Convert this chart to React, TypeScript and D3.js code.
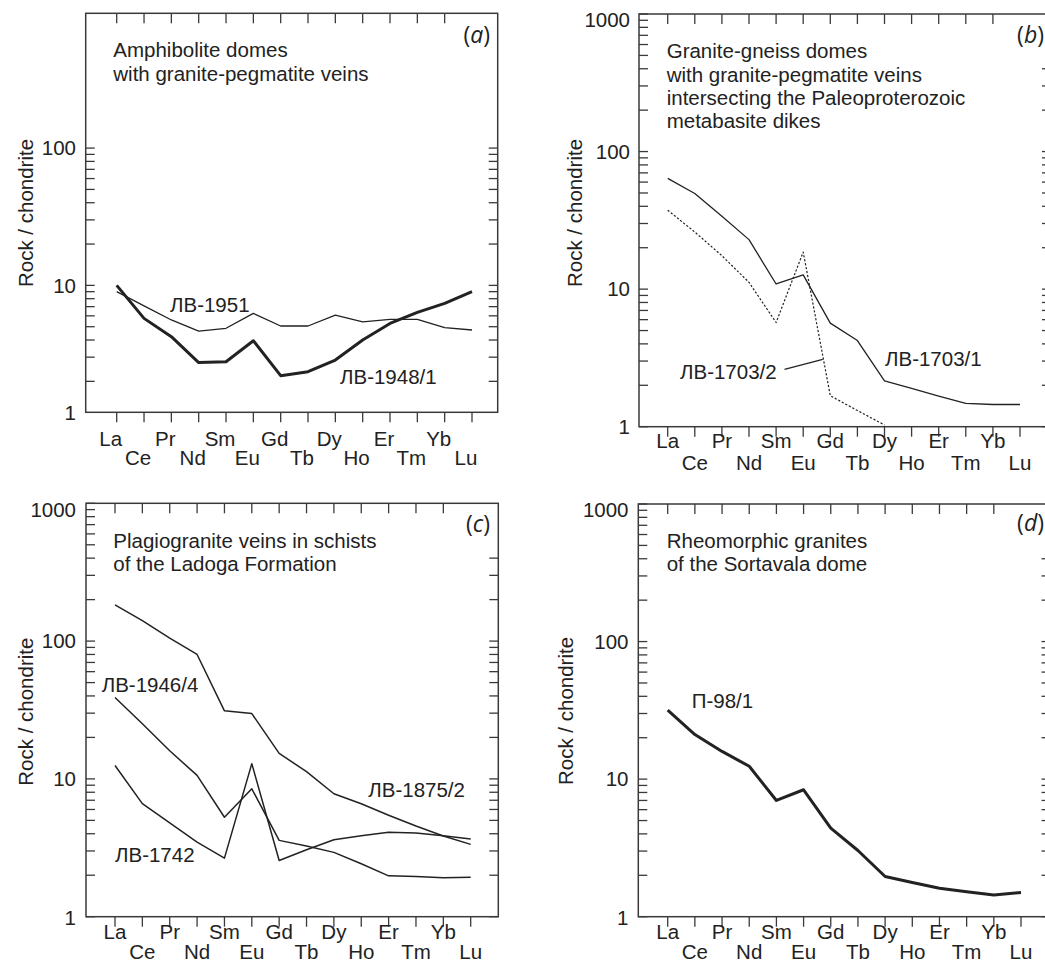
import React from "react";
import * as d3 from "d3";

const REE = ["La", "Ce", "Pr", "Nd", "Sm", "Eu", "Gd", "Tb", "Dy", "Ho", "Er", "Tm", "Yb", "Lu"];
const Y_TICK_LABELS = [1, 10, 100, 1000];

// Panel (a)
const LV1951 = [9.0, 7.1, 5.6, 4.65, 4.87, 6.25, 5.06, 5.06, 6.08, 5.43, 5.65, 5.65, 4.92, 4.73];
const LV1948_1 = [10, 5.75, 4.23, 2.74, 2.78, 3.95, 2.2, 2.35, 2.86, 4.0, 5.28, 6.36, 7.4, 9.0];
// Panel (b)
const LV1703_1 = [63.8, 49.6, 33.9, 22.9, 10.9, 12.7, 5.66, 4.23, 2.15, 1.9, 1.67, 1.48, 1.45, 1.45];
const LV1703_2 = [37.5, 26, 17.5, 11.2, 5.72, 18.6, 1.68, 1.31, 1.03];
// Panel (c)
const LV1875_2 = [183, 141, 105, 80, 31.2, 29.8, 15.3, 11.3, 7.8, 6.6, 5.45, 4.55, 3.85, 3.35];
const LV1946_4 = [39, 25.1, 16.0, 10.6, 5.27, 8.47, 3.58, 3.26, 2.93, 2.42, 1.98, 1.96, 1.92, 1.93];
const LV1742 = [12.5, 6.62, 4.79, 3.48, 2.66, 12.9, 2.56, 3.06, 3.62, 3.87, 4.1, 4.05, 3.87, 3.66];
// Panel (d)
const P98_1 = [31.7, 21.1, 15.9, 12.4, 7.0, 8.37, 4.4, 3.03, 1.96, 1.77, 1.61, 1.52, 1.44, 1.5];

const INK = "#222";
const FRAME = "#3a3a3a";
const FONT = "'Liberation Sans', Arial, sans-serif";
const FS = 20.5;

function tickValues(lo: number, hi: number) {
  const out: number[] = [];
  for (const d of [1, 10, 100]) {
    for (let k = 1; k <= 9; k++) {
      const v = d * k;
      if (v >= lo - 1e-9 && v <= hi + 1e-9) out.push(v);
    }
  }
  if (1000 >= lo && 1000 <= hi) out.push(1000);
  return out;
}

type Series = { values: number[]; width: number; dash?: string };
type Label = { text: string; x: number; y: number };

type PanelCfg = {
  letter: string;
  left: number; right: number; top: number; bottom: number;
  domain: [number, number];
  xRange: [number, number];
  labelShift: number; row1: number; row2: number;
  leftTicks: [number, number]; rightTicks: [number, number];
  yLabelX: number;
  yLabelOffsets: Record<number, number>;
  title: string[]; titleX: number; titleY: number[];
  yTitle: [number, number];
  letterX: number; letterY: number;
  series: Series[];
  labels: Label[];
  leader?: [number, number, number, number];
};

const PANELS: PanelCfg[] = [
  {
    letter: "a",
    left: 85.7, right: 497.7, top: 13.3, bottom: 412.3,
    domain: [1.19, 959], xRange: [116.7, 472],
    labelShift: -6, row1: 445.7, row2: 465,
    leftTicks: [2, 100], rightTicks: [2, 100],
    yLabelX: 76, yLabelOffsets: {},
    title: ["Amphibolite domes", "with granite-pegmatite veins"], titleX: 113.3, titleY: [57.3, 81],
    yTitle: [33, 213], letterX: 490, letterY: 43,
    series: [{ values: LV1951, width: 1.3 }, { values: LV1948_1, width: 3 }],
    labels: [{ text: "ЛВ-1951", x: 170, y: 312 }, { text: "ЛВ-1948/1", x: 340, y: 384 }],
  },
  {
    letter: "b",
    left: 639, right: 1051, top: 14, bottom: 426.7,
    domain: [1, 1000], xRange: [667.7, 1020],
    labelShift: 0, row1: 448.3, row2: 470,
    leftTicks: [1, 1000], rightTicks: [1, 400],
    yLabelX: 630, yLabelOffsets: { 1000: 6 },
    title: ["Granite-gneiss domes", "with granite-pegmatite veins", "intersecting the Paleoproterozoic", "metabasite dikes"],
    titleX: 666.7, titleY: [58.3, 81.7, 105, 128.3],
    yTitle: [582, 213], letterX: 1044, letterY: 43,
    series: [{ values: LV1703_1, width: 1.3 }, { values: LV1703_2, width: 1.2, dash: "2.2,1.8" }],
    labels: [{ text: "ЛВ-1703/2", x: 680, y: 379 }, { text: "ЛВ-1703/1", x: 885, y: 365.7 }],
    leader: [4.31, 2.61, 5.72, 3.09],
  },
  {
    letter: "c",
    left: 86, right: 498.3, top: 503.3, bottom: 916.7,
    domain: [1, 1000], xRange: [115, 470.7],
    labelShift: 0, row1: 939.3, row2: 959,
    leftTicks: [1, 1000], rightTicks: [1, 400],
    yLabelX: 76, yLabelOffsets: { 1000: 6.5, 1: 1.5 },
    title: ["Plagiogranite veins in schists", "of the Ladoga Formation"], titleX: 113.3, titleY: [547.7, 570.7],
    yTitle: [33, 711.7], letterX: 490, letterY: 532,
    series: [{ values: LV1875_2, width: 1.5 }, { values: LV1946_4, width: 1.5 }, { values: LV1742, width: 1.5 }],
    labels: [
      { text: "ЛВ-1946/4", x: 101.7, y: 692.3 },
      { text: "ЛВ-1875/2", x: 368.3, y: 797.3 },
      { text: "ЛВ-1742", x: 115, y: 862.3 },
    ],
  },
  {
    letter: "d",
    left: 638.3, right: 1050.5, top: 504, bottom: 916.7,
    domain: [1, 1000], xRange: [667.7, 1021],
    labelShift: 0, row1: 939.3, row2: 959,
    leftTicks: [1, 1000], rightTicks: [1, 400],
    yLabelX: 628.5, yLabelOffsets: { 1000: 6, 1: 1.5 },
    title: ["Rheomorphic granites", "of the Sortavala dome"], titleX: 666.7, titleY: [547.7, 570.7],
    yTitle: [573, 711], letterX: 1044, letterY: 531,
    series: [{ values: P98_1, width: 3 }],
    labels: [{ text: "П-98/1", x: 691.7, y: 708.3 }],
  },
];

function Panel({ p }: { p: PanelCfg }) {
  const y = d3.scaleLog().domain(p.domain).range([p.bottom, p.top]);
  const x = d3.scalePoint<string>().domain(REE).range(p.xRange);
  const step = x.step();
  const xi = (i: number) => p.xRange[0] + i * step;
  const line = d3
    .line<number>()
    .x((_, i) => x(REE[i]) as number)
    .y((v) => y(v));
  const tl = 10;
  const yt = 9;
  const lTicks = tickValues(p.leftTicks[0], p.leftTicks[1]);
  const rTicks = tickValues(p.rightTicks[0], p.rightTicks[1]);
  return (
    <g>
      {p.series.map((s, i) => (
        <path
          key={i}
          d={line(s.values) || ""}
          fill="none"
          stroke={INK}
          strokeWidth={s.width}
          strokeDasharray={s.dash}
          strokeLinejoin="round"
        />
      ))}
      {p.leader && (
        <line
          x1={xi(p.leader[0])}
          y1={y(p.leader[1])}
          x2={xi(p.leader[2])}
          y2={y(p.leader[3])}
          stroke={INK}
          strokeWidth={1.3}
        />
      )}
      <rect
        x={p.left}
        y={p.top}
        width={p.right - p.left}
        height={p.bottom - p.top}
        fill="none"
        stroke={FRAME}
        strokeWidth={1.5}
      />
      {REE.map((r) => (
        <line key={"b" + r} x1={x(r)} x2={x(r)} y1={p.bottom} y2={p.bottom + tl} stroke={FRAME} strokeWidth={1.3} />
      ))}
      {REE.slice(0, 13).map((r) => (
        <line key={"t" + r} x1={x(r)} x2={x(r)} y1={p.top} y2={p.top + tl} stroke={FRAME} strokeWidth={1.3} />
      ))}
      {lTicks.map((v) => (
        <line key={"l" + v} x1={p.left} x2={p.left + yt} y1={y(v)} y2={y(v)} stroke={FRAME} strokeWidth={1.3} />
      ))}
      {rTicks.map((v) => (
        <line key={"r" + v} x1={p.right - yt} x2={p.right} y1={y(v)} y2={y(v)} stroke={FRAME} strokeWidth={1.3} />
      ))}
      {REE.map((r, i) => (
        <text
          key={"xl" + r}
          x={(x(r) as number) + p.labelShift}
          y={i % 2 === 0 ? p.row1 : p.row2}
          textAnchor="middle"
          fontSize={FS}
          fill={INK}
          fontFamily={FONT}
        >
          {r}
        </text>
      ))}
      {Y_TICK_LABELS.map((v) => {
        const vv = Math.max(v, p.domain[0]);
        if (vv > p.domain[1] + 1e-6) return null;
        const cy = y(vv) + (p.yLabelOffsets[v] || 0);
        return (
          <text key={"yl" + v} x={p.yLabelX} y={cy + 7.2} textAnchor="end" fontSize={FS} fill={INK} fontFamily={FONT}>
            {String(v)}
          </text>
        );
      })}
      <text
        transform={`translate(${p.yTitle[0]},${p.yTitle[1]}) rotate(-90)`}
        textAnchor="middle"
        fontSize={FS}
        fill={INK}
        fontFamily={FONT}
      >
        Rock / chondrite
      </text>
      {p.title.map((t, i) => (
        <text key={"ti" + i} x={p.titleX} y={p.titleY[i]} fontSize={FS} fill={INK} fontFamily={FONT}>
          {t}
        </text>
      ))}
      <text x={p.letterX} y={p.letterY} textAnchor="end" fontSize={23} fill={INK} fontFamily="'Open Sans', sans-serif">
        (<tspan fontStyle="italic">{p.letter}</tspan>)
      </text>
      {p.labels.map((l, i) => (
        <text key={"sl" + i} x={l.x} y={l.y} fontSize={FS} fill={INK} fontFamily={FONT}>
          {l.text}
        </text>
      ))}
    </g>
  );
}

export default function App() {
  return (
    <svg
      width={1045}
      height={962}
      viewBox="0 0 1045 962"
      style={{ position: "absolute", left: 0, top: 0, background: "#fff" }}
    >
      <rect x={0} y={0} width={1045} height={962} fill="#fff" />
      {PANELS.map((p) => (
        <Panel key={p.letter} p={p} />
      ))}
    </svg>
  );
}
